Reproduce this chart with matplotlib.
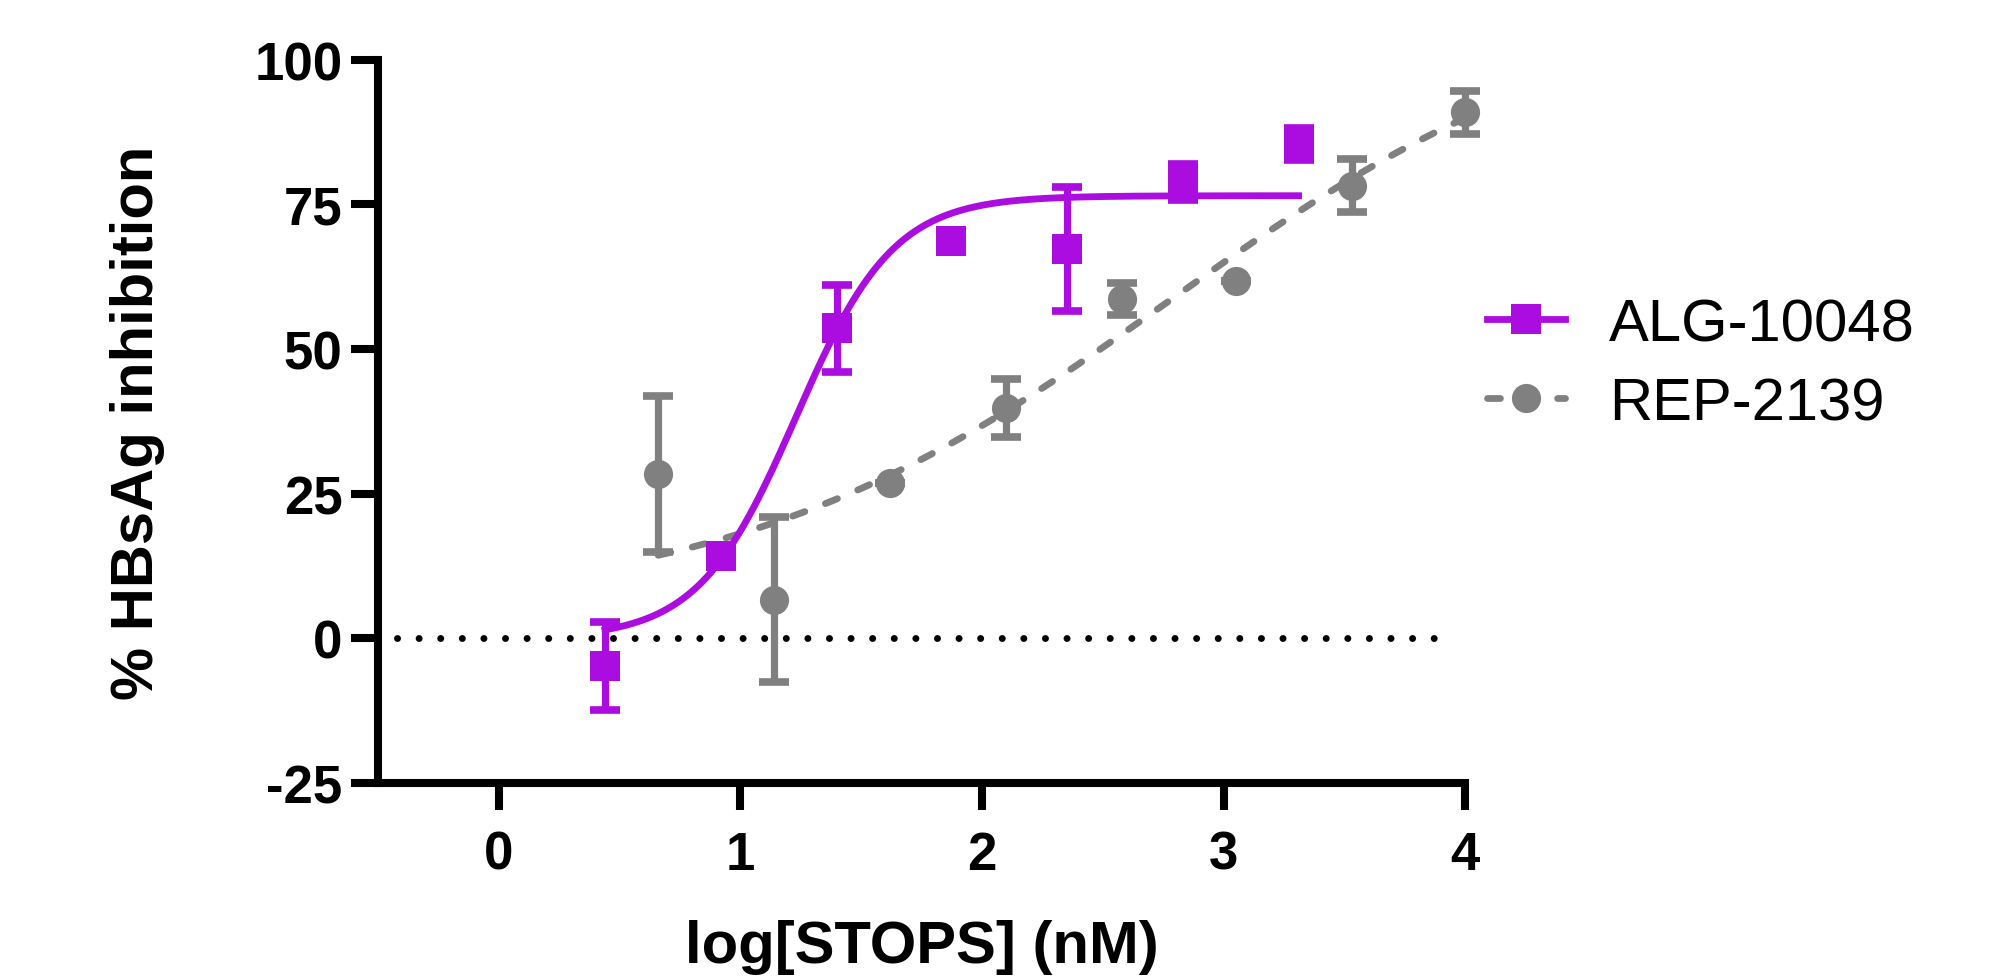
import numpy as np
import matplotlib
matplotlib.use("Agg")
import matplotlib.pyplot as plt
from matplotlib.lines import Line2D

PURPLE = "#AB0CE0"
GREY = "#808080"

# ALG-10048 (squares)
alg_x = [0.44, 0.92, 1.40, 1.87, 2.35, 2.83, 3.31]
alg_y = [-4.7, 14.2, 53.6, 68.7, 67.3, 78.8, 85.4]
alg_err = [7.6, 0.0, 7.5, 0.0, 10.7, 3.1, 2.8]
# 4PL fit: bottom, top, logEC50, hill
alg_fit = [0.0, 76.5, 1.23, 2.15]

# REP-2139 (circles)
rep_x = [0.66, 1.14, 1.62, 2.10, 2.58, 3.05, 3.53, 4.00]
rep_y = [28.4, 6.7, 26.8, 39.8, 58.7, 61.8, 78.2, 90.9]
rep_err = [13.5, 14.3, 0.0, 5.0, 2.8, 0.0, 4.6, 3.7]
rep_fit = [5.0, 112.0, 2.78, 0.48]

x_ticks = [0, 1, 2, 3, 4]
y_ticks = [-25, 0, 25, 50, 75, 100]

DASHES = (0, (1.9, 3.25))


def four_pl(x, p):
    bottom, top, logec50, hill = p
    return bottom + (top - bottom) / (1 + 10 ** ((logec50 - x) * hill))


def plot_series(ax, xs, ys, errs, fit, color, marker, linestyle):
    xf = np.linspace(min(xs), max(xs), 300)
    ax.plot(xf, four_pl(xf, fit), color=color, lw=4.9, linestyle=linestyle,
            dash_capstyle="round", zorder=2)
    ax.errorbar(xs, ys, yerr=errs, fmt="none", ecolor=color, elinewidth=5.2,
                capsize=10.5, capthick=5.5, zorder=3, clip_on=False)
    ax.plot(xs, ys, linestyle="none", marker=marker, color=color, markersize=21,
            markeredgewidth=0, zorder=4, clip_on=False)


if __name__ == '__main__':
    plt.rcParams['font.family'] = ['Liberation Sans', 'DejaVu Sans']
    plt.rcParams['axes.unicode_minus'] = False
    fig = plt.figure(figsize=(20.1, 9.79), dpi=100)
    ax = fig.add_axes([0.188, 0.199, 0.541, 0.739])

    ax.hlines(0, -0.42, 3.92, colors="black", linewidth=5, linestyles=[(0, (0.01, 3.1))],
              capstyle="round", zorder=1)

    plot_series(ax, rep_x, rep_y, rep_err, rep_fit, GREY, "o", DASHES)
    plot_series(ax, alg_x, alg_y, alg_err, alg_fit, PURPLE, "s", "-")

    ax.set_xlim(-0.5, 4)
    ax.set_ylim(-25, 100)
    ax.set_xticks(x_ticks)
    ax.set_yticks(y_ticks)
    for side in ("top", "right"):
        ax.spines[side].set_visible(False)
    for side in ("left", "bottom"):
        ax.spines[side].set_linewidth(5.8)
        ax.spines[side].set_capstyle("projecting")
    ax.tick_params(width=5.8, length=19.5, labelsize=38, pad=14)
    ax.tick_params(axis="y", pad=6)
    for lab in ax.get_xticklabels() + ax.get_yticklabels():
        lab.set_fontweight("bold")

    ax.set_xlabel("log[STOPS] (nM)", fontsize=43, fontweight="bold", labelpad=28)
    ax.set_ylabel("% HBsAg inhibition", fontsize=43, fontweight="bold", labelpad=64)

    handles = [
        Line2D([], [], color=PURPLE, lw=4.9, marker="s", markersize=21, markeredgewidth=0),
        Line2D([], [], color=GREY, lw=4.9, linestyle=DASHES, dash_capstyle="round",
               marker="o", markersize=21, markeredgewidth=0),
    ]
    fig.legend(handles, ["ALG-10048", "REP-2139"], loc="center left",
               bbox_to_anchor=(0.713, 0.627), frameon=False, fontsize=43,
               handlelength=1.3, handletextpad=0.75, labelspacing=0.4)

    fig.savefig("out.png", dpi=100)
